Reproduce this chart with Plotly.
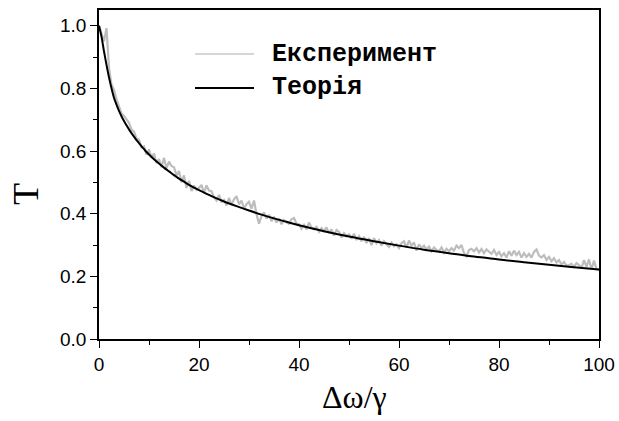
import plotly.graph_objects as go

# Theory curve
theory_x = [0, 0.5, 1, 1.5, 2, 2.5, 3, 3.5, 4, 4.5, 5, 5.5, 6, 6.5, 7, 7.5, 8, 8.5, 9, 9.5,
            10, 11, 12, 13, 14, 15, 16, 17, 18, 19, 20, 22.5, 25, 27.5, 30, 32.5, 35, 37.5,
            40, 45, 50, 55, 60, 65, 70, 75, 80, 85, 90, 95, 100]
theory_y = [1.000, 0.965, 0.918, 0.875, 0.835, 0.800, 0.770, 0.748, 0.728, 0.711, 0.696,
            0.682, 0.669, 0.657, 0.646, 0.635, 0.625, 0.615, 0.606, 0.597,
            0.589, 0.574, 0.560, 0.547, 0.535, 0.523, 0.512, 0.502, 0.492, 0.483, 0.475,
            0.456, 0.439, 0.424, 0.410, 0.397, 0.385, 0.374,
            0.363, 0.344, 0.327, 0.312, 0.298, 0.285, 0.274, 0.263, 0.254, 0.245, 0.237,
            0.229, 0.222]

exp_x = [0, 0.5, 1, 1.5, 2, 2.5, 3, 3.5, 4, 4.5, 5, 5.5, 6, 6.5, 7, 7.5, 8, 8.5, 9, 9.5,
         10, 10.5, 11, 11.5, 12, 12.5, 13, 13.5, 14, 14.5, 15, 15.5, 16, 16.5, 17, 17.5, 18, 18.5, 19, 19.5,
         20, 20.5, 21, 21.5, 22, 22.5, 23, 23.5, 24, 24.5, 25, 25.5, 26, 26.5, 27, 27.5, 28, 28.5, 29, 29.5,
         30, 30.5, 31, 31.5, 32, 32.5, 33, 33.5, 34, 34.5, 35, 35.5, 36, 36.5, 37, 37.5, 38, 38.5, 39, 39.5,
         40, 40.5, 41, 41.5, 42, 42.5, 43, 43.5, 44, 44.5, 45, 45.5, 46, 46.5, 47, 47.5, 48, 48.5, 49, 49.5,
         50, 50.5, 51, 51.5, 52, 52.5, 53, 53.5, 54, 54.5, 55, 55.5, 56, 56.5, 57, 57.5, 58, 58.5, 59, 59.5,
         60, 60.5, 61, 61.5, 62, 62.5, 63, 63.5, 64, 64.5, 65, 65.5, 66, 66.5, 67, 67.5, 68, 68.5, 69, 69.5,
         70, 70.5, 71, 71.5, 72, 72.5, 73, 73.5, 74, 74.5, 75, 75.5, 76, 76.5, 77, 77.5, 78, 78.5, 79, 79.5,
         80, 80.5, 81, 81.5, 82, 82.5, 83, 83.5, 84, 84.5, 85, 85.5, 86, 86.5, 87, 87.5, 88, 88.5, 89, 89.5,
         90, 90.5, 91, 91.5, 92, 92.5, 93, 93.5, 94, 94.5, 95, 95.5, 96, 96.5, 97, 97.5, 98, 98.5, 99, 99.5,
         100]
exp_y = [1.000, 0.975, 0.950, 0.992, 0.865, 0.812, 0.795, 0.765, 0.742, 0.720,
         0.712, 0.702, 0.690, 0.668, 0.662, 0.640, 0.636, 0.612, 0.615, 0.588,
         0.605, 0.578, 0.592, 0.562, 0.574, 0.548, 0.578, 0.545, 0.566, 0.552,
         0.548, 0.522, 0.536, 0.500, 0.522, 0.482, 0.505, 0.472, 0.490, 0.476,
         0.482, 0.492, 0.466, 0.490, 0.474, 0.472, 0.452, 0.442, 0.460, 0.438,
         0.444, 0.426, 0.450, 0.428, 0.446, 0.456, 0.430, 0.442, 0.418, 0.430,
         0.438, 0.416, 0.442, 0.398, 0.368, 0.392, 0.404, 0.384, 0.396, 0.376,
         0.390, 0.372, 0.385, 0.366, 0.380, 0.372, 0.368, 0.382, 0.386, 0.368,
         0.366, 0.352, 0.364, 0.350, 0.372, 0.356, 0.350, 0.358, 0.342, 0.354,
         0.344, 0.356, 0.338, 0.350, 0.330, 0.348, 0.342, 0.324, 0.338, 0.328,
         0.334, 0.320, 0.336, 0.316, 0.328, 0.312, 0.326, 0.306, 0.322, 0.300,
         0.322, 0.306, 0.316, 0.298, 0.312, 0.302, 0.294, 0.308, 0.296, 0.302,
         0.290, 0.306, 0.312, 0.292, 0.314, 0.298, 0.308, 0.282, 0.302, 0.290,
         0.298, 0.286, 0.295, 0.280, 0.292, 0.284, 0.280, 0.292, 0.276, 0.288,
         0.280, 0.290, 0.282, 0.298, 0.290, 0.300, 0.274, 0.264, 0.284, 0.288,
         0.280, 0.290, 0.276, 0.287, 0.274, 0.286, 0.280, 0.272, 0.284, 0.268,
         0.278, 0.264, 0.274, 0.260, 0.280, 0.266, 0.282, 0.268, 0.278, 0.260,
         0.274, 0.262, 0.272, 0.260, 0.278, 0.286, 0.266, 0.260, 0.268, 0.252,
         0.262, 0.248, 0.258, 0.244, 0.252, 0.238, 0.246, 0.234, 0.236, 0.240,
         0.230, 0.242, 0.236, 0.226, 0.252, 0.230, 0.254, 0.222, 0.250, 0.224,
         0.218]

x_ticks = [0, 20, 40, 60, 80, 100]
y_ticks = [0.0, 0.2, 0.4, 0.6, 0.8, 1.0]
legend_names = ["Експеримент", "Теорія"]
x_title = "Δω/γ"
y_title = "T"

fig = go.Figure()
fig.add_trace(go.Scatter(x=exp_x, y=exp_y, mode="lines", name=legend_names[0],
                         line=dict(color="#bdbdbd", width=2.2), showlegend=False))
fig.add_trace(go.Scatter(x=theory_x, y=theory_y, mode="lines", name=legend_names[1],
                         line=dict(color="black", width=2, shape="spline"), showlegend=False))

# Manual legend (line samples + labels)
leg_font = dict(family="Liberation Mono", size=25, color="black")
for i, (col, yy) in enumerate([("#c8c8c8", 0.866), ("black", 0.763)]):
    fig.add_shape(type="line", xref="paper", yref="paper", x0=0.192, x1=0.31, y0=yy, y1=yy,
                  line=dict(color=col, width=1.5 if i == 0 else 2))
    fig.add_annotation(xref="paper", yref="paper", x=0.342, y=yy, xanchor="left", yanchor="middle",
                       text="<b>" + legend_names[i] + "</b>", showarrow=False, font=leg_font)

# Axis titles
fig.add_annotation(xref="paper", yref="paper", x=-0.146, y=0.441, xanchor="center", yanchor="middle",
                   text=y_title, textangle=-90, showarrow=False,
                   font=dict(family="Liberation Serif", size=36, color="black"))
fig.add_annotation(xref="paper", yref="paper", x=0.51, y=-0.175, xanchor="center", yanchor="middle",
                   text=x_title, showarrow=False,
                   font=dict(family="Liberation Serif", size=32, color="black"))

tick_font = dict(family="Liberation Sans", size=19, color="black")
fig.update_layout(
    width=619, height=421,
    margin=dict(l=99, r=20, t=10, b=82),
    paper_bgcolor="white", plot_bgcolor="white",
    xaxis=dict(range=[0, 100], tickvals=x_ticks, ticks="outside", ticklen=7, tickwidth=1.3,
               tickcolor="black", showline=True, linecolor="black", linewidth=1.5, mirror=True,
               showgrid=False, zeroline=False, tickfont=tick_font, automargin=False,
               minor=dict(dtick=10, ticks="outside", ticklen=4, tickcolor="black", tickwidth=1.3)),
    yaxis=dict(range=[0, 1.05], tickvals=y_ticks, tickformat=".1f", ticks="outside", ticklen=7,
               tickwidth=1.3, tickcolor="black", showline=True, linecolor="black", linewidth=1.5,
               mirror=True, showgrid=False, zeroline=False, tickfont=tick_font, automargin=False,
               minor=dict(dtick=0.1, ticks="outside", ticklen=4, tickcolor="black", tickwidth=1.3)),
)

fig.write_html("out.html")
